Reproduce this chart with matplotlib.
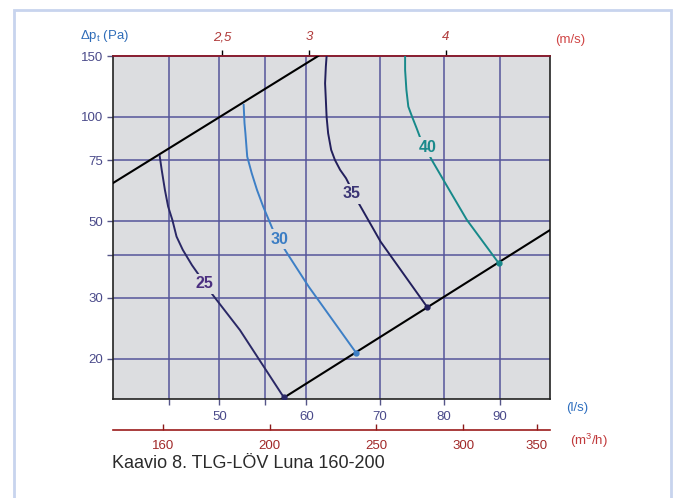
import numpy as np
import matplotlib
matplotlib.use('Agg')
import matplotlib.pyplot as plt
from matplotlib.patches import Rectangle
from matplotlib.ticker import FixedLocator, FixedFormatter, NullLocator

plt.rcParams['font.family'] = ['Liberation Sans', 'DejaVu Sans']
plt.rcParams['mathtext.fontset'] = 'custom'
plt.rcParams['mathtext.rm'] = 'Liberation Sans'

# Sound level curves (flow l/s, pressure Pa)
q25 = [44.1, 44.3, 44.6, 44.9, 45.3, 45.7, 46.3, 47.2, 47.9, 49.3, 52.2, 57.2]
p25 = [77.6, 70.3, 61.5, 55.1, 50.4, 45.1, 41.3, 37.3, 34.9, 30.6, 24.2, 15.5]
q30 = [52.6, 52.7, 52.8, 53.0, 53.5, 54.1, 54.8, 55.9, 57.5, 60.3, 66.6]
p30 = [109.0, 95.9, 89.7, 76.8, 68.8, 61.5, 55.1, 47.4, 40.8, 32.3, 20.8]
q35 = [62.6, 62.5, 62.4, 62.5, 62.6, 62.8, 63.2, 63.7, 64.4, 65.2, 67.0, 70.1, 77.3]
p35 = [150.0, 139.8, 125.1, 112.0, 100.0, 89.7, 80.3, 75.1, 70.3, 66.5, 56.1, 43.6, 28.2]
q40 = [73.8, 73.8, 74.0, 74.3, 74.9, 75.6, 76.2, 78.1, 80.3, 84.0, 89.8]
p40 = [150.0, 136.7, 119.7, 107.1, 100.0, 92.8, 86.8, 74.8, 64.3, 50.4, 37.8]

# label positions of the dB values
lab_q = [48.5, 56.7, 66.0, 77.4]
lab_p = [32.9, 44.3, 59.9, 81.7]
lab_txt = ['25', '30', '35', '40']

# limit lines
upper_q = [40.0, 61.5]
upper_p = [64.4, 150.0]
lower_q = [56.8, 100.0]
lower_p = [15.2, 47.1]

x_ticks = [45, 50, 55, 60, 70, 80, 90]
x_labels = ['', '50', '', '60', '70', '80', '90']
y_ticks = [20, 30, 40, 50, 75, 100, 150]
y_labels = ['20', '30', '', '50', '75', '100', '150']
v_ticks = [2.5, 3, 4]
v_labels = ['2,5', '3', '4']
m3_ticks = [160, 200, 250, 300, 350]
m3_labels = ['160', '200', '250', '300', '350']
duct_area = np.pi * 0.08 ** 2  # 160 mm duct

W, H = 679, 498
fig = plt.figure(figsize=(W / 100, H / 100), dpi=100)
ax = fig.add_axes([113 / W, 1 - 399 / H, 437 / W, 343 / H])
ax.set_facecolor('#dcdde0')
ax.set_xscale('log')
ax.set_yscale('log')
ax.set_xlim(40, 100)
ax.set_ylim(15.3, 150)

tick_col = '#4a4a8a'
ax.xaxis.set_major_locator(FixedLocator(x_ticks))
ax.xaxis.set_major_formatter(FixedFormatter(x_labels))
ax.xaxis.set_minor_locator(NullLocator())
ax.yaxis.set_major_locator(FixedLocator(y_ticks))
ax.yaxis.set_major_formatter(FixedFormatter(y_labels))
ax.yaxis.set_minor_locator(NullLocator())
ax.tick_params(axis='both', labelsize=9.5, labelcolor=tick_col, color='#555588',
               length=4, width=1)
ax.tick_params(axis='x', pad=5)
ax.tick_params(axis='y', pad=3)
ax.grid(True, color='#55559a', lw=1.1)
ax.set_axisbelow(True)
for s in ['left', 'bottom', 'right']:
    ax.spines[s].set_color('#222222')
    ax.spines[s].set_linewidth(1.2)
ax.spines['top'].set_color('#8b1a2a')
ax.spines['top'].set_linewidth(1.2)

# limit lines
ax.plot(upper_q, upper_p, color='black', lw=1.5, zorder=3)
ax.plot(lower_q, lower_p, color='black', lw=1.5, zorder=3)

curves = [(q25, p25, '#2a2866', '#4b2f80'),
          (q30, p30, '#3d7fc6', '#3b7dc4'),
          (q35, p35, '#221f5c', '#3a3474'),
          (q40, p40, '#17898a', '#1b8a8c')]
for i, (q, p, lc, tc) in enumerate(curves):
    ax.plot(q, p, color=lc, lw=1.4, zorder=4, solid_capstyle='butt',
            solid_joinstyle='round')
    ax.plot(q[-1:], p[-1:], 'o', color=lc, ms=3.5, zorder=5)
    ax.text(lab_q[i], lab_p[i], lab_txt[i], color=tc, fontsize=11.5,
            fontweight='bold', ha='center', va='center', zorder=6,
            bbox=dict(boxstyle='square,pad=0.15', fc='#dcdde0', ec='none'))

# velocity axis on top
top = ax.secondary_xaxis('top', functions=(lambda q: q / 1000 / duct_area,
                                           lambda v: v * 1000 * duct_area))
top.xaxis.set_major_locator(FixedLocator(v_ticks))
top.xaxis.set_major_formatter(FixedFormatter(v_labels))
top.xaxis.set_minor_locator(NullLocator())
top.tick_params(axis='x', length=4, width=1, color='black', labelcolor='#b03a3a',
                labelsize=9.5, pad=5)
for lab in top.get_xticklabels():
    lab.set_fontstyle('italic')
top.spines['top'].set_color('#8b1a2a')
top.spines['top'].set_linewidth(1.2)

# m3/h axis below
m3 = ax.secondary_xaxis(-31 / 343, functions=(lambda q: q * 3.6, lambda m: m / 3.6))
m3.xaxis.set_major_locator(FixedLocator(m3_ticks))
m3.xaxis.set_major_formatter(FixedFormatter(m3_labels))
m3.xaxis.set_minor_locator(NullLocator())
m3.tick_params(axis='x', direction='in', length=4, width=1, color='#8b1a1a',
               labelcolor='#a02828', labelsize=9.5, pad=7)
m3.spines['bottom'].set_color('#9b1b1b')
m3.spines['bottom'].set_linewidth(1.2)

# unit labels
fig.text(80 / W, 1 - 36 / H, r'Δp$_\mathregular{t}$ (Pa)', color='#2e6cb8',
         fontsize=9.5, va='center', ha='left')
fig.text(555 / W, 1 - 40 / H, '(m/s)', color='#d04545', fontsize=9.5, va='center')
fig.text(566 / W, 1 - 408 / H, '(l/s)', color='#2f6fbf', fontsize=9.5, va='center')
fig.text(570 / W, 1 - 441 / H, '(m$^\mathregular{3}$/h)', color='#c0393b',
         fontsize=9.5, va='center')

fig.text(112 / W, 1 - 463 / H, 'Kaavio 8. TLG-LÖV Luna 160-200', color='#2a2a2a',
         fontsize=13, va='center', ha='left')

# light blue frame
fig.patches.append(Rectangle((14 / W, -0.05), (671 - 14) / W, 1.05 - 10 / H,
                             transform=fig.transFigure, fill=False,
                             ec='#c8d4ee', lw=2))

fig.savefig('out.png', dpi=100)
